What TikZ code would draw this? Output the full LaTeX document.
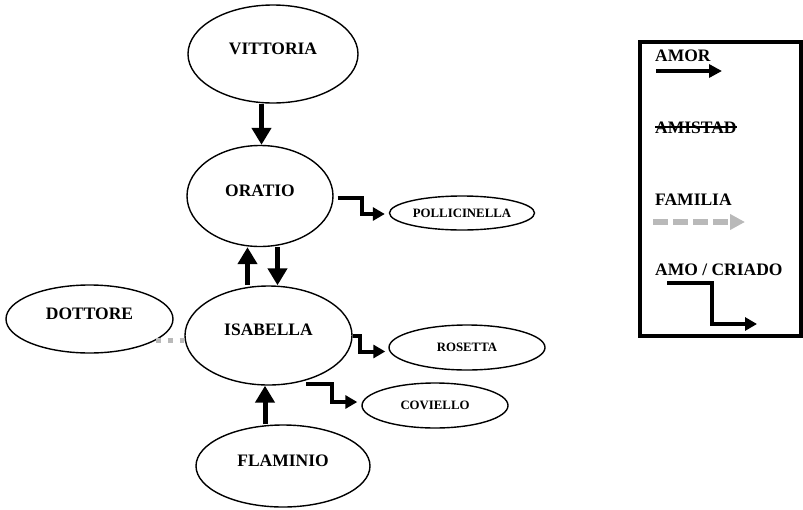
\documentclass[tikz,border=0pt]{standalone}
\usepackage{fontspec}
\setmainfont{Liberation Serif}
\usetikzlibrary{shapes.geometric,arrows.meta}

\definecolor{gris}{RGB}{185,185,185}

% texto tachado, sin ulem
\newlength\tachadoancho
\newcommand\tachado[1]{\settowidth{\tachadoancho}{#1}\rlap{\rule[0.31em]{\tachadoancho}{1.3pt}}#1}

\tikzset{
  persona/.style={ellipse, draw, line width=1.4pt, inner sep=0pt,
    text height=0pt, text depth=0pt,
    font=\fontsize{17.5}{21}\selectfont\bfseries},
  criado chico/.style={ellipse, draw, line width=1.4pt, inner sep=0pt,
    font=\fontsize{12.8}{15}\selectfont\bfseries},
  amor/.style={line width=5pt, -{Triangle[length=17pt,width=19pt]}},
  criado/.style={line width=4pt, line join=miter, -{Triangle[length=12pt,width=13pt]}},
  familia/.style={gris, line width=5pt},
  leyenda/.style={draw, line width=4pt, rectangle, minimum width=161pt, minimum height=294pt},
  rotulo/.style={anchor=base west, inner sep=0pt, font=\fontsize{17.5}{21}\selectfont\bfseries},
}

\begin{document}
\begin{tikzpicture}[x=1pt, y=-1pt]

  %% ════ personajes ════
  \node[persona, minimum width=170pt, minimum height=98pt]  (vittoria) at (273,54)    {VITTORIA};
  \node[persona, minimum width=146pt, minimum height=101pt] (oratio)   at (260,196)   {ORATIO};
  \node[persona, minimum width=167pt, minimum height=99pt]  (isabella) at (268.5,335.5) {ISABELLA};
  \node[persona, minimum width=167pt, minimum height=68pt]  (dottore)  at (89.5,319)  {DOTTORE};
  \node[persona, minimum width=174pt, minimum height=82pt]  (flaminio) at (283,466)   {FLAMINIO};

  %% ════ criados ════
  \node[criado chico, minimum width=145pt, minimum height=34pt] (pollicinella) at (462,213)   {POLLICINELLA};
  \node[criado chico, minimum width=156pt, minimum height=45pt] (rosetta)      at (467,347.5) {ROSETTA};
  \node[criado chico, minimum width=146pt, minimum height=45pt] (coviello)     at (435,405.5) {COVIELLO};

  %% ════ amor ════
  \draw[amor] ([xshift=-11.5pt]vittoria.south) -- ([xshift=1.5pt]oratio.north);
  \draw[amor] ([xshift=-21pt]isabella.north) -- ([xshift=-12.5pt]oratio.south);
  \draw[amor] ([xshift=17.5pt]oratio.south) -- ([xshift=9pt]isabella.north);
  \draw[amor] ([xshift=-18pt]flaminio.north) -- ([xshift=-3.5pt]isabella.south);

  %% ════ amo / criado ════
  \draw[criado, shorten >=4pt] ([xshift=4pt,yshift=-2pt]oratio.east) -- ++(24,0) |- ([yshift=-1pt]pollicinella.west);
  \draw[criado, shorten >=3pt] (isabella.east) -- ++(7,0) |- ([yshift=-4pt]rosetta.west);
  \draw[criado, shorten >=4pt] ([yshift=-4pt]isabella.-50) -- ++(26,0) |- ([yshift=3.5pt]coviello.west);

  %% ════ familia ════
  \draw[familia, dash pattern=on 5.5pt off 6.5pt] (dottore.-18) -- (dottore.-18 -| isabella.west);

  %% ════ leyenda ════
  \node[leyenda] (leyenda) at (720,189) {};

  \node[rotulo] (l-amor)    at (655,61)  {AMOR};
  \node[rotulo] (l-amistad) at (655,133) {\tachado{AMISTAD}};
  \node[rotulo] (l-familia) at (655,205) {FAMILIA};
  \node[rotulo] (l-amo)     at (655,275) {AMO / CRIADO};

  \coordinate (a1) at (656,71);  \coordinate (a2) at (722,71);
  \coordinate (f1) at (653,222); \coordinate (f2) at (745,222);
  \coordinate (c1) at (667,283); \coordinate (c2) at (757,324);

  \draw[line width=4pt, -{Triangle[length=13pt,width=13pt]}] (a1) -- (a2);
  \draw[familia, line width=5.5pt, dash pattern=on 15pt off 5pt, -{Triangle[length=15pt,width=15pt]}] (f1) -- (f2);
  \draw[criado] (c1) -- ++(45,0) |- (c2);

  % lienzo fijo
  \pgfresetboundingbox
  \path[use as bounding box] (0,0) rectangle (803,509);
\end{tikzpicture}
\end{document}
